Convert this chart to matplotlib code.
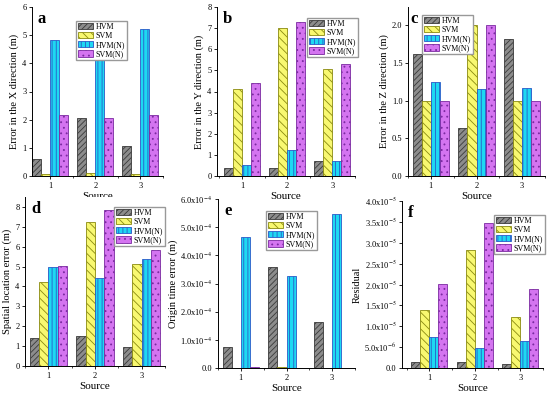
import numpy as np
import matplotlib
matplotlib.use("Agg")
import matplotlib.pyplot as plt
from matplotlib.patches import Patch
from matplotlib.ticker import FuncFormatter, MultipleLocator

plt.rcParams['font.family'] = ['Liberation Serif', 'DejaVu Serif']
plt.rcParams['mathtext.fontset'] = 'stix'
plt.rcParams['hatch.linewidth'] = 0.6

sources = [1, 2, 3]
series = ["HVM", "SVM", "HVM(N)", "SVM(N)"]

# panel data
err_x = [[0.62, 2.05, 1.05], [0.08, 0.12, 0.07], [4.82, 4.5, 5.22], [2.17, 2.07, 2.15]]
err_y = [[0.38, 0.37, 0.72], [4.1, 7.0, 5.05], [0.5, 1.25, 0.73], [4.4, 7.3, 5.32]]
err_z = [[1.62, 0.63, 1.82], [1.0, 2.0, 1.0], [1.25, 1.15, 1.17], [1.0, 2.0, 1.0]]
err_loc = [[1.4, 1.52, 0.97], [4.22, 7.25, 5.15], [5.0, 4.45, 5.4], [5.02, 7.85, 5.85]]
err_t = [[7.5e-5, 3.6e-4, 1.62e-4], [0.0, 5e-6, 0.0], [4.65e-4, 3.25e-4, 5.45e-4], [3e-6, 0.0, 0.0]]
resid = [[1.4e-6, 1.5e-6, 1.0e-6], [1.38e-5, 2.82e-5, 1.23e-5], [7.5e-6, 4.8e-6, 6.5e-6], [2.02e-5, 3.48e-5, 1.9e-5]]

faces = ['#8c8c8c', '#f8f870', '#1ed8f2', '#d474f0']
edges = ['#3a3a3a', '#8a8a10', '#2a5ac8', '#7a2aa0']
hatches = ['//////', '\\\\\\\\', '||||', '...']

W, H = 550, 399
# (data, letter, ylabel, axes px box l,r,top,bottom, ylim, ytick step, legend px pos x,y, xlim, letter offset)
panels = [
    (err_x, 'a', 'Error in the X direction (m)', (32, 163, 7, 176), 6, 1, (76, 21), (0.6, 3.5), 6),
    (err_y, 'b', 'Error in the Y direction (m)', (217, 355, 7, 176), 8, 1, (307, 18), (0.45, 3.5), 6),
    (err_z, 'c', 'Error in the Z direction (m)', (408, 545, 7, 176), 2.24, 0.5, (422, 15), (0.5, 3.5), 2),
    (err_loc, 'd', 'Spatial location error (m)', (25, 165, 197, 366), 8.5, 1, (114, 207), (0.5, 3.5), 6),
    (err_t, 'e', 'Origin time error (m)', (218, 355, 199, 368), 6e-4, 1e-4, (266, 211), (0.5, 3.5), 6),
    (resid, 'f', 'Residual', (402, 543, 201, 368), 4e-5, 5e-6, (494, 215), (0.4, 3.5), 6),
]

fig = plt.figure(figsize=(5.5, 3.99), dpi=100)

def sci_fmt(v, pos):
    if v == 0:
        return '0.0'
    e = int(np.floor(np.log10(abs(v)) + 1e-9))
    m = v / 10 ** e
    return r'%.1fx10$^{%d}$' % (m, e)

for data, letter, ylab, (l, r, t, b), ytop, ystep, (lx, ly), xlim, loff in panels:
    ax = fig.add_axes([l / W, (H - b) / H, (r - l) / W, (b - t) / H])
    bw = 0.2
    x = np.array(sources, dtype=float)
    for i, vals in enumerate(data):
        ax.bar(x + (i - 1.5) * bw, vals, bw, color=faces[i], edgecolor=edges[i],
               hatch=hatches[i], linewidth=0.6)
    ax.set_xlim(*xlim)
    ax.set_ylim(0, ytop)
    ax.set_xticks(sources)
    ax.xaxis.set_minor_locator(MultipleLocator(0.5))
    ax.yaxis.set_major_locator(MultipleLocator(ystep))
    if ytop < 0.01:
        ax.yaxis.set_major_formatter(FuncFormatter(sci_fmt))
    elif ystep == 0.5:
        ax.yaxis.set_major_formatter(FuncFormatter(lambda v, p: '%.1f' % v))
    for s in ['top', 'right']:
        ax.spines[s].set_visible(False)
    for s in ['left', 'bottom']:
        ax.spines[s].set_linewidth(0.7)
    ax.tick_params(labelsize=6, width=0.6, length=2.5, pad=1.5)
    ax.tick_params(which='minor', width=0.5, length=1.5)
    ax.set_xlabel('Source', fontsize=8, labelpad=2)
    ax.set_ylabel(ylab, fontsize=7.5, labelpad=2)
    ax.text((l + loff) / W, 1 - (t + 4) / H, letter, transform=fig.transFigure, fontsize=12,
            fontweight='bold', va='top', ha='left')
    handles = [Patch(facecolor=faces[i], edgecolor=edges[i], hatch=hatches[i],
                     linewidth=0.6, label=series[i]) for i in range(4)]
    ax.legend(handles=handles, loc='upper left',
              bbox_to_anchor=(lx / W, 1 - ly / H), bbox_transform=fig.transFigure,
              fontsize=5.8, frameon=True, fancybox=False, edgecolor='#999999',
              framealpha=1, handlelength=1.9, handleheight=0.9, labelspacing=0.12,
              borderpad=0.2, handletextpad=0.35, borderaxespad=0)

fig.savefig('out.png', dpi=100)
